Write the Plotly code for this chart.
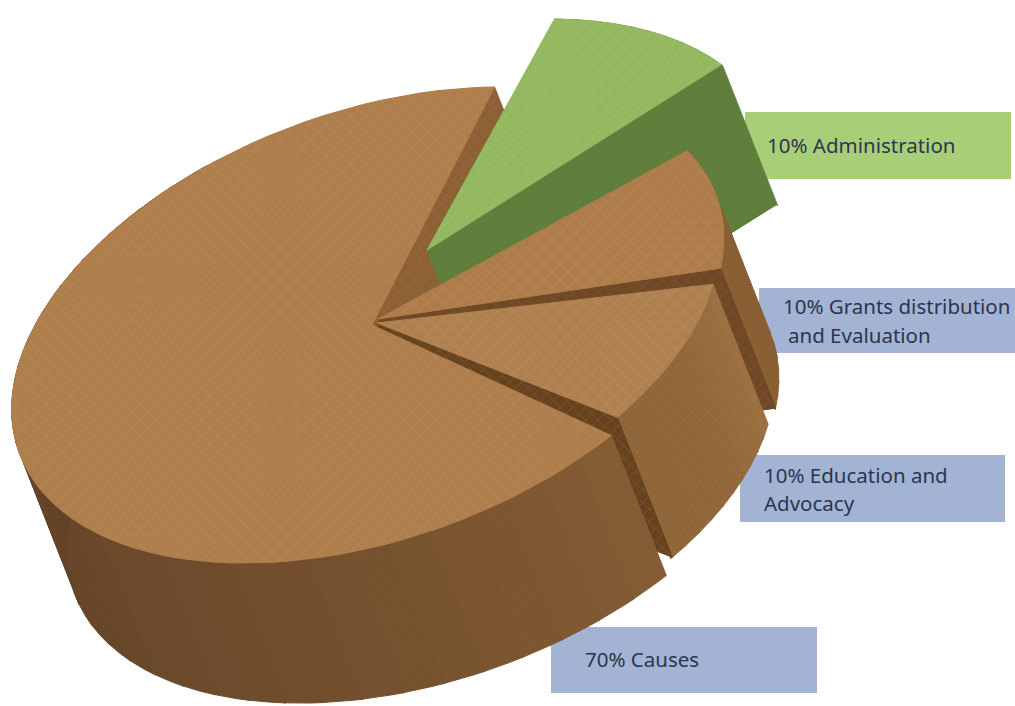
import numpy as np
import plotly.graph_objects as go

# ---- data ----
categories = ["Causes", "Administration", "Grants distribution and Evaluation", "Education and Advocacy"]
values = [70, 10, 10, 10]
label_lines = [["70% Causes"], ["10% Administration"],
               ["10% Grants distribution", "and Evaluation"],
               ["10% Education and", "Advocacy"]]

# ---- styling / projection ----
W, H = 1015, 706
CENTER = np.array([372.0, 325.0])
AX_A = np.array([360.0, -75.0])
AX_B = np.array([-15.0, 226.0])
DEPTH = np.array([55.0, 140.0])
START_DEG = 43.0
PAD_LOW = [3.0, 0.0, 0.0, 1.5]           # angular trim at each end of a sweep
PAD_HIGH = [7.5, 0.0, 1.5, 0.0]
ROTATE = [0.0, -6.0, 0.0, 0.0]
SCALE = [1.0, 0.97, 0.96, 0.95]
OFFSETS = [(0, 0), (55, -75), (6, -6), (5, -2)]
TOP = ["#ae7e4c", "#93b85f", "#ae7c4a", "#b08150"]
SIDE_L = ["#5f4026", "#6a8a44", "#8a5f34", "#8f653a"]
SIDE_R = ["#855d35", "#6a8a44", "#8a5f34", "#9c7040"]
CUT = ["#8f6237", "#607f3d", "#6f4825", "#66431f"]
TEX = ["#b98c59", "#9dc26c", "#b98a54", "#bb8f5c"]
SIDE_TEX = ["#6e4c2c", "#587536", "#94683a", "#a87a4a"]
BOXES = [(551, 627, 817, 693, "#a3b3d3"), (745, 112, 1011, 179, "#a8cf78"),
         (759, 288, 1015, 353, "#a3b3d3"), (740, 455, 1005, 522, "#a3b3d3")]
TEXT_POS = [[(584, 659)], [(766, 145)], [(782, 306), (787, 335)], [(763, 475), (763, 503)]]


def rim(t0, t1, i, n=80):
    t = np.radians(np.linspace(t0, t1, n))
    return (CENTER + np.array(OFFSETS[i])
            + SCALE[i] * (np.outer(np.cos(t), AX_A) + np.outer(np.sin(t), AX_B)))


sweeps = []
a = START_DEG
for v, lo, hi, rot in zip(values, PAD_LOW, PAD_HIGH, ROTATE):
    sweeps.append((a + lo + rot, a + v * 3.6 - hi + rot))
    a += v * 3.6

fig = go.Figure()


def poly(pts, fill, tex, solidity=0.2, size=11, shape="x", edge=True):
    pts = np.vstack([pts, pts[:1]])
    fig.add_trace(go.Scatter(
        x=pts[:, 0], y=pts[:, 1], mode="lines", fill="toself",
        fillcolor=fill,
        fillpattern=dict(shape=shape, bgcolor=fill, fgcolor=tex, size=size, solidity=solidity),
        line=dict(color=fill, width=1), hoverinfo="skip", showlegend=False))


def mix(c0, c1, f):
    a0 = np.array([int(c0[k:k + 2], 16) for k in (1, 3, 5)])
    a1 = np.array([int(c1[k:k + 2], 16) for k in (1, 3, 5)])
    r = (a0 + (a1 - a0) * f).round().astype(int)
    return "#%02x%02x%02x" % tuple(r)


def cut_wall(i, t):
    p0 = CENTER + np.array(OFFSETS[i], float)
    p1 = rim(t, t, i, 1)[0]
    poly(np.array([p0, p1, p1 + DEPTH, p0 + DEPTH]), CUT[i], SIDE_TEX[i], 0.12, 9, "x")


def outer_wall(i, t0, t1, parts=14):
    edges = np.linspace(t0, t1, parts + 1)
    # right end of the arc is lighter, left end darker
    for k in range(parts):
        arc = rim(edges[k], edges[k + 1] + 0.4, i, 12)
        f = (1 - k / max(parts - 1, 1)) ** 2
        poly(np.vstack([arc, (arc + DEPTH)[::-1]]), mix(SIDE_L[i], SIDE_R[i], f),
             SIDE_TEX[i], 0.1, 11, "x")


def top_face(i):
    arc = rim(*sweeps[i], i)
    poly(np.vstack([CENTER + np.array(OFFSETS[i], float), arc]), TOP[i], TEX[i], 0.2, 11, "x")


# back wall of the large slice, then slices from back to front
cut_wall(0, sweeps[0][1])
for i in (1, 2, 3):
    outer_wall(i, sweeps[i][0], sweeps[i][1], parts=10)
    cut_wall(i, sweeps[i][1])
    top_face(i)
outer_wall(0, sweeps[0][0], 240, parts=30)
top_face(0)

shapes = [dict(type="rect", x0=b[0], y0=b[1], x1=b[2], y1=b[3], fillcolor=b[4],
               line_width=0, layer="below") for b in BOXES]
annotations = []
for lines, poss in zip(label_lines, TEXT_POS):
    for s, (x, y) in zip(lines, poss):
        annotations.append(dict(x=x, y=y, text=s, showarrow=False, xanchor="left", yanchor="middle",
                                xshift=-1, font=dict(family="Noto Sans", size=20.5, color="#2c3550")))

fig.update_layout(
    width=W, height=H, margin=dict(l=0, r=0, t=0, b=0), showlegend=False,
    paper_bgcolor="white", plot_bgcolor="white", shapes=shapes, annotations=annotations,
    xaxis=dict(range=[0, W], visible=False, fixedrange=True),
    yaxis=dict(range=[H, 0], visible=False, fixedrange=True),
)
fig.write_html("out.html", config={"displayModeBar": False},
               post_script="document.body.style.margin='0';document.body.style.overflow='hidden';")
